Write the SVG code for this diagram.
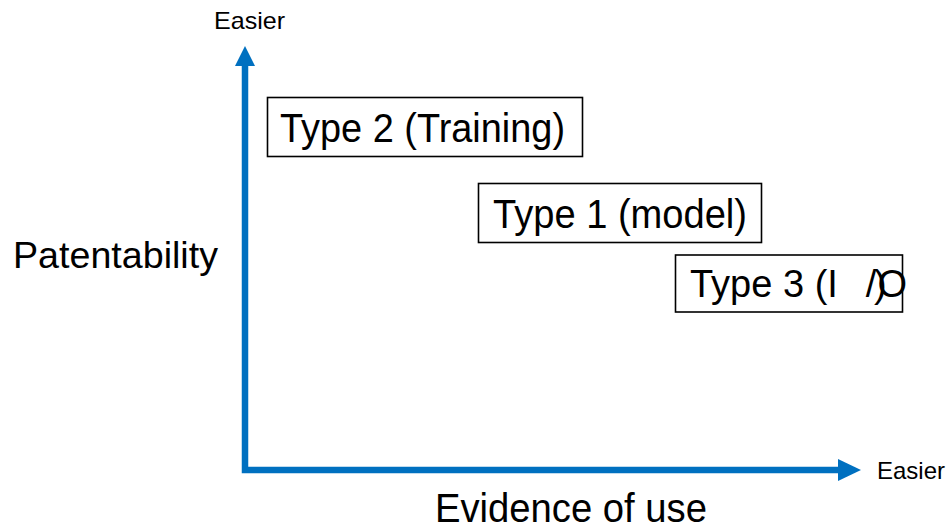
<svg xmlns="http://www.w3.org/2000/svg" width="952" height="529" viewBox="0 0 952 529">
<style>
text { font-family: "Liberation Sans", Arial, sans-serif; fill: #000; }
.box { fill: #fff; stroke: #000; stroke-width: 1.6; }
.axis { stroke: #0070C0; stroke-width: 6.5; fill: none; }
.head { fill: #0070C0; }
.big { font-size: 40px; }
.small { font-size: 24px; }
</style>
<rect width="952" height="529" fill="#fff"/>
<g id="connectors">
  <path class="axis" d="M245,64 V470 H840"/>
  <polygon class="head" points="245,46 235,66 255,66"/>
  <polygon class="head" points="861,470 838,459 838,481"/>
</g>
<g id="label-y-easier"><text class="small" x="214" y="29" textLength="71" lengthAdjust="spacingAndGlyphs">Easier</text></g>
<g id="label-x-easier"><text class="small" x="877" y="479" textLength="68" lengthAdjust="spacingAndGlyphs">Easier</text></g>
<g id="label-patentability"><text x="13" y="268" font-size="37" textLength="205" lengthAdjust="spacingAndGlyphs">Patentability</text></g>
<g id="label-evidence"><text class="big" x="435" y="522" textLength="272" lengthAdjust="spacingAndGlyphs">Evidence of use</text></g>
<g id="type2">
  <rect class="box" x="267.5" y="97.5" width="315" height="59"/>
  <text class="big" x="280" y="142" textLength="285" lengthAdjust="spacingAndGlyphs">Type 2 (Training)</text>
</g>
<g id="type1">
  <rect class="box" x="478.5" y="183.5" width="283" height="59"/>
  <text class="big" x="493" y="228" textLength="254" lengthAdjust="spacingAndGlyphs">Type 1 (model)</text>
</g>
<g id="type3">
  <rect class="box" x="675.5" y="255" width="227" height="57"/>
  <text x="690" y="297" font-size="38">Type 3 (I<tspan dx="28">/</tspan><tspan dx="1">O</tspan><tspan dx="-33">)</tspan></text>
</g>
</svg>
